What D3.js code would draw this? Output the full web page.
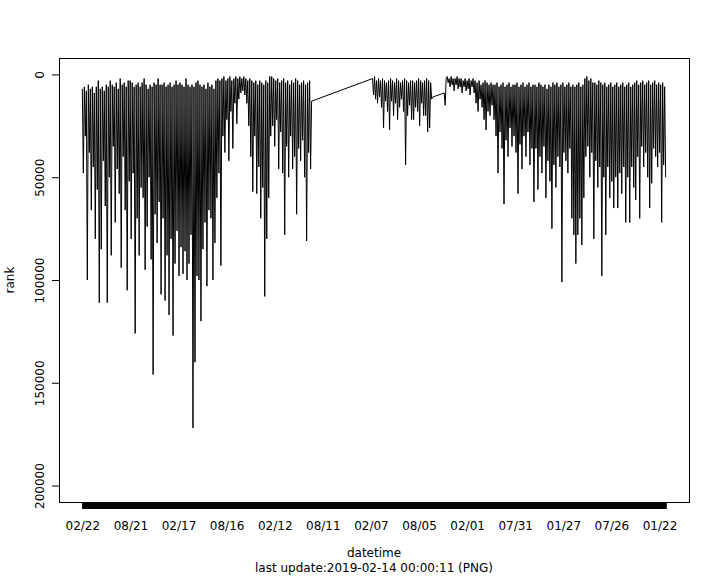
<!DOCTYPE html>
<html>
<head>
<meta charset="utf-8">
<script src="https://cdn.jsdelivr.net/npm/d3@7"></script>
<style>
  html, body { margin: 0; padding: 0; background: #fff; }
  svg { display: block; }
  text { font-family: "DejaVu Sans", sans-serif; fill: #000; }
</style>
</head>
<body>
<svg id="chart" width="720" height="576"></svg>
<script>
// ---------------- data ----------------
// rank values (in thousands), read off the picture, for the three recorded stretches
const segStarts = ["2013-02-22", "2016-02-13", "2016-11-07"];
const segEnds   = ["2015-06-30", "2016-09-25", "2019-02-14"];

const rankA_k = [
  7,48, 6,30, 8,100, 5,38, 7,66, 6,45, 9,80, 6,56, 3,111, 7,85,
  6,42, 8,64, 5,111, 6,50, 3,88, 5,35, 6,72, 4,46, 7,58, 2,94,
  5,40, 4,66, 6,105, 3,52, 3,80, 4,48, 6,126, 5,70, 4,88, 6,55,
  4,60, 2,95, 5,74, 7,50, 5,90, 6,146, 4,68, 5,82, 2,62, 5,107,
  5,70, 4,110, 6,88, 5,117, 4,80, 6,127, 5,92, 3,76, 5,98, 4,84,
  5,97, 6,86, 2,100, 5,92, 6,78, 5,172, 6,140, 4,98, 3,100, 5,120,
  6,85, 5,72, 7,103, 4,66, 6,70, 5,100, 7,82, 3,60, 2,48, 3,93,
  2,30, 1,38, 3,22, 2,42, 1,18, 3,36, 2,14, 1,24, 2,12, 1,9,
  2,8, 1,10, 2,14, 3,25, 2,40, 3,57, 4,30, 3,58, 5,45, 3,70,
  4,55, 5,108, 3,80, 4,60, 1,30, 1,25, 2,35, 3,22, 2,46, 4,28,
  3,48, 2,78, 4,35, 3,50, 5,30, 3,46, 4,40, 2,68, 3,36, 5,42, 4,32, 3,50, 5,81, 4,38, 3,46,
  13
];

const rankB_k = [
  2,10, 1,12, 3,14, 2,11, 3,16, 2,26, 3,13, 4,18, 3,27, 2,13,
  3,20, 4,14, 2,22, 3,16, 4,12, 3,18, 2,44, 3,20, 4,15, 3,22,
  3,22, 4,16, 3,18, 2,25, 3,14, 4,20, 3,20, 2,28, 3,26, 4,12,
  11
];

const rankC_k = [
  9, 15, 2,
  1,4, 2,6, 1,5, 2,8, 2,5, 1,7, 2,6, 2,9, 3,6, 2,8, 3,7, 2,10, 3,6, 2,9,
  3,14, 4,18, 3,12, 5,16, 4,22, 3,27, 4,18, 5,20, 4,15, 5,22,
  5,30, 4,48, 6,28, 5,36, 4,63, 6,32, 5,40, 4,26, 6,35, 5,30,
  5,38, 4,58, 6,34, 5,46, 4,30, 6,40, 5,28, 4,44, 6,36, 5,62,
  5,36, 6,56, 4,40, 5,48, 6,35, 5,60, 7,42, 5,52, 6,75, 4,44,
  5,55, 4,40, 6,45, 5,101, 4,38, 6,42, 5,48, 4,36, 6,70, 5,78,
  6,92, 5,78, 4,70, 6,83, 5,60, 2,40, 1,35, 3,50, 2,38, 4,80,
  4,42, 5,55, 3,45, 4,98, 5,50, 4,78, 6,45, 5,60, 4,52, 6,65,
  5,50, 4,65, 6,48, 5,58, 4,45, 6,72, 5,50, 4,72, 6,45, 5,55,
  4,61, 3,40, 5,70, 4,35, 3,45, 5,38, 4,50, 3,65, 5,53, 4,36,
  3,40, 5,45, 4,38, 5,72, 4,44, 6,50
];

const tickDates = ["2013-02-22","2013-08-21","2014-02-17","2014-08-16","2015-02-12",
  "2015-08-11","2016-02-07","2016-08-05","2017-02-01","2017-07-31","2018-01-27",
  "2018-07-26","2019-01-22"];
const yTicks = [0, 50000, 100000, 150000, 200000];
const yLimits = [0, 200000];
const xTitle = "datetime";
const yTitle = "rank";
const subTitle = "last update:2019-02-14 00:00:11 (PNG)";

// ---------------- build series ----------------
const parse = d3.utcParse("%Y-%m-%d");
const segValues = [rankA_k, rankB_k, rankC_k];
const series = [];
segValues.forEach((vals, s) => {
  const t0 = parse(segStarts[s]).getTime(), t1 = parse(segEnds[s]).getTime();
  vals.forEach((v, i) => {
    series.push({ date: new Date(t0 + (t1 - t0) * i / (vals.length - 1)), rank: v * 1000 });
  });
});

// ---------------- layout ----------------
const svg = d3.select("#chart");
const L = 59, R = 689, T = 58, B = 502;

const first = parse(segStarts[0]), last = parse(segEnds[segEnds.length - 1]);
const span = last - first;
const x = d3.scaleUtc()
  .domain([new Date(+first - 0.04 * span), new Date(+last + 0.04 * span)])
  .range([L, R]);
const yPad = 0.04 * (yLimits[1] - yLimits[0]);
const y = d3.scaleLinear()
  .domain([yLimits[0] - yPad, yLimits[1] + yPad])
  .range([T, B]);

// data line
svg.append("path")
  .datum(series)
  .attr("fill", "none")
  .attr("stroke", "#000")
  .attr("stroke-width", 1)
  .attr("d", d3.line().x(d => x(d.date)).y(d => y(d.rank)));

// dense daily ticks (black band)
const dayTicks = d3.utcDay.range(first, d3.utcDay.offset(last, 1));
const gDays = svg.append("g").attr("transform", `translate(0,${B})`)
  .call(d3.axisBottom(x).tickValues(dayTicks).tickSize(7).tickFormat(""));
gDays.select(".domain").remove();
gDays.selectAll("line").attr("stroke", "#000");

// labelled x ticks
const gx = svg.append("g").attr("transform", `translate(0,${B})`)
  .call(d3.axisBottom(x).tickValues(tickDates.map(parse)).tickSize(7).tickPadding(12)
    .tickFormat(d3.utcFormat("%m/%d")));
gx.select(".domain").remove();
gx.selectAll("line").attr("stroke", "#000");
gx.selectAll("text").attr("fill", "#000")
  .style("font-family", "'DejaVu Sans', sans-serif").style("font-size", "12px");

// y axis
const gy = svg.append("g").attr("transform", `translate(${L},0)`)
  .call(d3.axisLeft(y).tickValues(yTicks).tickSize(7).tickFormat(d3.format("d")));
gy.select(".domain").remove();
gy.selectAll("line").attr("stroke", "#000");
gy.selectAll("text")
  .attr("x", null).attr("dy", null)
  .attr("text-anchor", "middle")
  .attr("transform", "translate(-15,0) rotate(-90)")
  .attr("fill", "#000")
  .style("font-family", "'DejaVu Sans', sans-serif").style("font-size", "12px");

// box
svg.append("rect")
  .attr("x", L + 0.5).attr("y", T + 0.5)
  .attr("width", R - L).attr("height", B - T)
  .attr("fill", "none").attr("stroke", "#000").attr("stroke-width", 1);

// titles
svg.append("text").attr("x", (L + R) / 2).attr("y", 557)
  .attr("text-anchor", "middle").style("font-size", "12px").text(xTitle);
svg.append("text").attr("x", (L + R) / 2).attr("y", 572)
  .attr("text-anchor", "middle").style("font-size", "12px").text(subTitle);
svg.append("text")
  .attr("transform", `translate(14,${(T + B) / 2}) rotate(-90)`)
  .attr("text-anchor", "middle").style("font-size", "12px").text(yTitle);
</script>
</body>
</html>
